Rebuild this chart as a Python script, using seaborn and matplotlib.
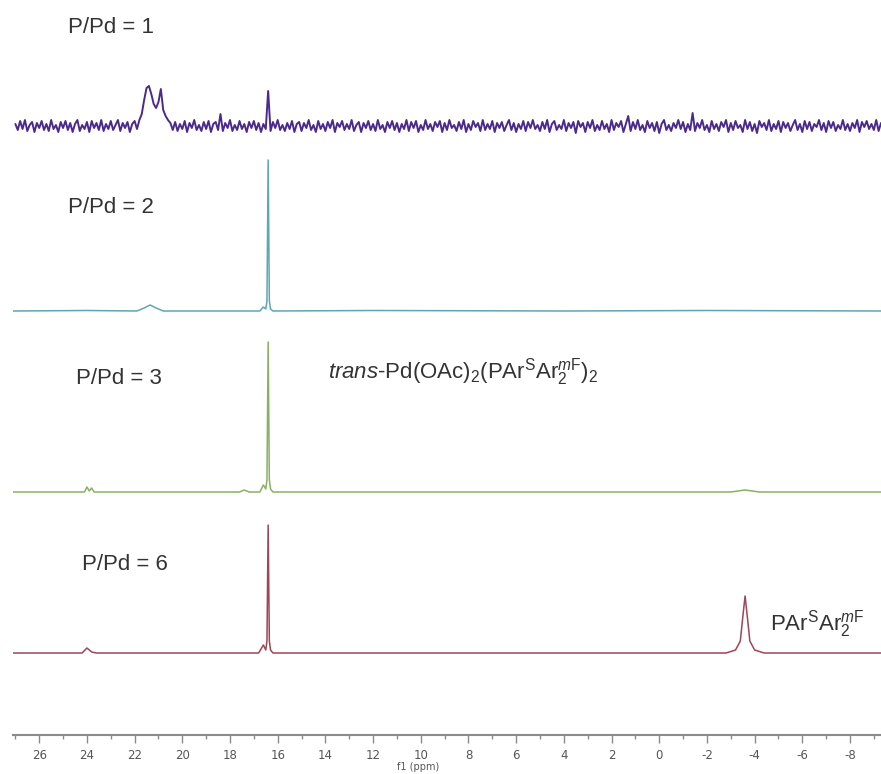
import numpy as np
import pandas as pd
import matplotlib
matplotlib.use("Agg")
import matplotlib.pyplot as plt
import seaborn as sns
from matplotlib.ticker import MultipleLocator

# --- data (heights in arbitrary units) ---
ratios = ["P/Pd = 1", "P/Pd = 2", "P/Pd = 3", "P/Pd = 6"]
colors = ["#4a2a8c", "#5ea6b2", "#88b163", "#9c4656"]

# P/Pd = 1 : noisy trace on a 0.1 ppm grid from 27.0 down to -9.3 ppm
ppm1_start, ppm1_step = 27.0, -0.1
int1 = [
    2, -4, 5, -3, 6, -5, 1, 4, -6, 3, -2, 5, -4, 2, -5, 6, -3, 1, -6, 4,
    -2, 5, -4, 3, -6, 2, 6, -5, 1, -3, 4, -6, 5, -2, 3, -4, 6, -5, 2, -3,
    5, -4, 1, 6, -5, 3, -2, 4, -6, 2, 5, -3, 6, 12, 26, 38, 40, 32, 22, 18,
    24, 37, 16, 10, 6, 3, -4, 4, -5, 2, -3, 5, -6, 3, -2, 6, -4, 1, -5, 4,
    -3, 5, -6, 2, 4, -4, 12, -5, 3, -2, 6, -5, 1, -4, 5, -3, 2, -6, 4, -2,
    5, -4, 3, -6, 2, -3, 35, -5, 4, -2, 6, -4, 1, -5, 3, -3, 5, -6, 2, 4,
    -5, 3, -2, 6, -4, 1, -6, 5, -3, 2, -5, 4, -2, 6, -6, 3, -1, 5, -4, 2,
    -3, 6, -5, 1, 4, -6, 3, -2, 5, -4, 2, -5, 6, -3, 1, -6, 4, -2, 5, -4,
    3, -6, 2, -3, 6, -5, 4, -2, 5, -6, 1, -4, 6, -3, 2, -5, 4, -1, 5, -6,
    3, -4, 6, -2, 1, -5, 4, -3, 6, -6, 2, -4, 5, -1, 3, -5, 6, -4, 2, -3,
    5, -6, 3, -2, 4, -5, 1, 6, -4, 3, -6, 2, -3, 5, -5, 4, -2, 6, -3, 1,
    -5, 4, -3, 6, -6, 2, 5, -4, 1, -3, 6, -5, 3, -2, 4, -7, 5, -1, 3, -6,
    4, -2, 6, -5, 1, -4, 5, -3, 2, -6, 6, -4, 3, -1, 5, -6, 2, 10, -5, 4,
    -3, 6, -4, 1, -6, 5, -2, 3, -5, 4, -7, 2, 6, -4, 1, -5, 3, -2, 6, -3,
    4, -6, 2, -4, 13, -5, 3, -2, 6, -4, 1, -6, 5, -3, 2, -5, 4, -1, 6, -6,
    3, -4, 5, -2, 1, -6, 6, -3, 4, -5, 2, -7, 5, -1, 3, -4, 6, -5, 2, -3,
    5, -6, 4, -2, 3, -5, 1, 6, -4, 2, -6, 5, -3, 4, -5, 2, -1, 6, -4, 3,
    -6, 5, -2, 4, -5, 1, -3, 6, -4, 2, -5, 3, -2, 6, -6, 4, -1, 5, -3, 2,
    -4, 6, -5, 3,
]

# P/Pd = 2
ppm2 = [27.1, 24.0, 21.9, 21.6, 21.35, 21.1, 20.8, 18.0, 16.75, 16.6, 16.5,
        16.45, 16.4, 16.35, 16.3, 16.2, 12.0, 4.0, -2.0, -9.3]
int2 = [0, 0.5, 0, 3, 6, 3, 0, 0, 0, 4, 2,
        10, 151, 10, 2, 0, 0.5, 0, 0.5, 0]

# P/Pd = 3
ppm3 = [27.1, 24.1, 24.0, 23.9, 23.8, 23.7, 17.6, 17.4, 17.2, 16.75, 16.6,
        16.5, 16.45, 16.4, 16.35, 16.3, 16.2, 8.0, -3.0, -3.6, -4.2, -9.3]
int3 = [0, 0, 5, 1, 4, 0, 0, 2, 0, 0, 7,
        3, 12, 150, 12, 3, 0, 0, 0, 2, 0, 0]

# P/Pd = 6
ppm4 = [27.1, 24.2, 24.0, 23.8, 23.6, 16.8, 16.6, 16.5, 16.45, 16.4, 16.35,
        16.3, 16.2, -2.8, -3.2, -3.4, -3.5, -3.6, -3.7, -3.8, -4.0, -4.4, -9.3]
int4 = [0, 0, 5, 1, 0, 0, 8, 3, 12, 128, 12,
        3, 0, 0, 3, 12, 35, 57, 35, 12, 3, 0, 0]

ppm1 = [ppm1_start + ppm1_step * i for i in range(len(int1))]

# --- layout (pixels of the 881x774 canvas) ---
W, H = 881, 774
ax_left, ax_bottom_px = 13, 735
baselines_px = [126, 311, 492, 653]

sns.set_style("white")
plt.rcParams["axes.unicode_minus"] = False
plt.rcParams["font.family"] = ["Liberation Sans", "DejaVu Sans"]
plt.rcParams["mathtext.fontset"] = "custom"
plt.rcParams["mathtext.rm"] = "Liberation Sans"
plt.rcParams["mathtext.it"] = "Liberation Sans:italic"

fig = plt.figure(figsize=(W / 100, H / 100), dpi=100)
ax = fig.add_axes([ax_left / W, (H - ax_bottom_px) / H,
                   (W - ax_left) / W, ax_bottom_px / H])

frames = []
for name, xs, ys, base in zip(ratios, [ppm1, ppm2, ppm3, ppm4],
                              [int1, int2, int3, int4], baselines_px):
    frames.append(pd.DataFrame({"ppm": xs,
                                "y": np.array(ys, float) + (ax_bottom_px - base),
                                "ratio": name}))
df = pd.concat(frames, ignore_index=True)

for name, col in zip(ratios, colors):
    sub = df[df["ratio"] == name]
    sns.lineplot(data=sub, x="ppm", y="y", color=col,
                 linewidth=1.4 if name == ratios[0] else 1.1,
                 estimator=None, sort=False, ax=ax)

ax.set_xlim(27.1, -9.3)
ax.set_ylim(0, ax_bottom_px)
ax.set_yticks([])
ax.set_xlabel("")
ax.set_ylabel("")
for s in ["left", "right", "top"]:
    ax.spines[s].set_visible(False)
ax.spines["bottom"].set_color("#8a8a8a")
ax.spines["bottom"].set_linewidth(1.5)
ax.xaxis.set_major_locator(MultipleLocator(2))
ax.xaxis.set_minor_locator(MultipleLocator(1))
ax.tick_params(axis="x", which="both", bottom=True, direction="out",
               color="#8a8a8a", width=1)
ax.tick_params(axis="x", which="major", length=6, labelsize=8.5,
               labelcolor="#555555", pad=4)
ax.tick_params(axis="x", which="minor", length=3)
for lab in ax.get_xticklabels():
    lab.set_family("DejaVu Sans")

fig.text(418 / W, 1 - 762 / H, "f1 (ppm)", ha="center", va="top",
         fontsize=7, color="#555555", family="DejaVu Sans")

# trace labels
label_pos = [(68, 33), (68, 213), (76, 384), (82, 570)]
for name, (x, y) in zip(ratios, label_pos):
    fig.text(x / W, 1 - y / H, name, ha="left", va="baseline",
             fontsize=16, color="#333333")

fig.text(328 / W, 1 - 378 / H,
         r"$\it{trans}$-Pd(OAc)$_2$(PAr$^{\rm S}$Ar$_2^{\it{m}\rm{F}}$)$_2$",
         ha="left", va="baseline", fontsize=16, color="#333333")
fig.text(770 / W, 1 - 630 / H, r"PAr$^{\rm S}$Ar$_2^{\it{m}\rm{F}}$",
         ha="left", va="baseline", fontsize=16, color="#333333")

fig.savefig("out.png", dpi=100)
